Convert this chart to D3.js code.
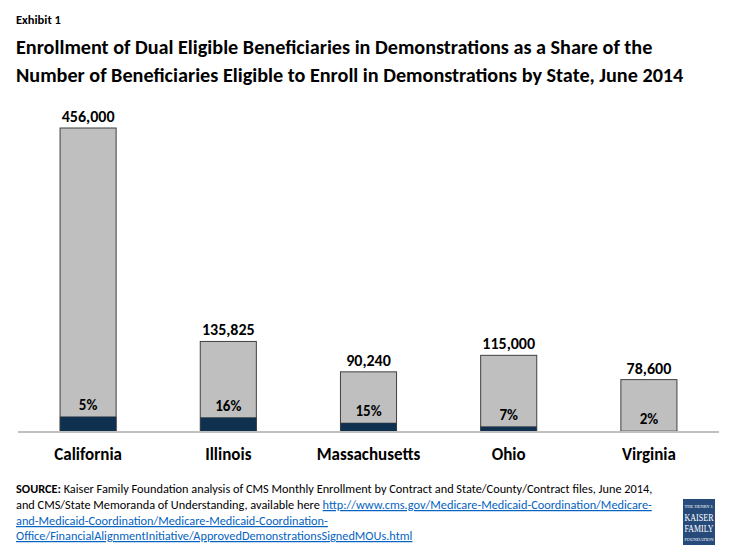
<!DOCTYPE html>
<html>
<head>
<meta charset="utf-8">
<script src="https://cdn.jsdelivr.net/npm/d3@7"></script>
<style>
  body { margin: 0; background: #fff; }
  svg { font-family: Carlito, Calibri, Lato, "Open Sans", sans-serif; }
  .link { fill: #0563c1; text-decoration: underline; }
</style>
</head>
<body>
<div id="chart"></div>
<script>
// chart data
let states = ["California", "Illinois", "Massachusetts", "Ohio", "Virginia"];
let eligible = [456000, 135825, 90240, 115000, 78600];
let enrolledShare = [0.05, 0.16, 0.15, 0.07, 0.02];
let shareLabels = ["5%", "16%", "15%", "7%", "2%"];

let width = 735, height = 551;

let svg = d3.select("#chart")
    .append("svg")
    .attr("width", width)
    .attr("height", height);

// header
svg.append("text")
    .attr("x", 16).attr("y", 24)
    .style("font-size", "12.5px").style("font-weight", "bold")
    .text("Exhibit 1");

let title = [
    "Enrollment of Dual Eligible Beneficiaries in Demonstrations as a Share of the",
    "Number of Beneficiaries Eligible to Enroll in Demonstrations by State, June 2014"
];
svg.selectAll(".title")
    .data(title)
    .enter().append("text")
    .attr("class", "title")
    .attr("x", 16)
    .attr("y", function(d, i) { return 54 + i * 28; })
    .style("font-size", "20.2px").style("font-weight", "bold")
    .text(function(d) { return d; });

// scales
let x = d3.scaleBand()
    .domain(states)
    .range([18, 719])
    .paddingInner(0.6)
    .paddingOuter(0.3);

let y = d3.scaleLinear()
    .domain([0, 456000])
    .range([432, 128]);

let rows = states.map(function(s, i) {
    return { state: s, eligible: eligible[i], enrolled: eligible[i] * enrolledShare[i], label: shareLabels[i] };
});

// eligible bars (gray)
svg.selectAll(".bar")
    .data(rows)
    .enter().append("rect")
    .attr("class", "bar")
    .attr("x", function(d) { return x(d.state); })
    .attr("y", function(d) { return y(d.eligible); })
    .attr("width", x.bandwidth())
    .attr("height", function(d) { return y(0) - y(d.eligible); })
    .style("fill", "#bfbfbf")
    .style("stroke", "#404040")
    .style("stroke-width", 1);

// enrolled bars (dark blue)
svg.selectAll(".enrolled")
    .data(rows)
    .enter().append("rect")
    .attr("class", "enrolled")
    .attr("x", function(d) { return x(d.state); })
    .attr("y", function(d) { return y(d.enrolled); })
    .attr("width", x.bandwidth())
    .attr("height", function(d) { return y(0) - y(d.enrolled); })
    .style("fill", "#10304f")
    .style("stroke", "#404040")
    .style("stroke-width", 0.5);

// x axis
let xAxis = svg.append("g")
    .attr("transform", "translate(0,432)")
    .call(d3.axisBottom(x).tickSize(0).tickPadding(16));
xAxis.select(".domain").attr("stroke", "#c0c0c0").attr("stroke-width", 2)
    .attr("d", "M18,0H719");
xAxis.selectAll("text")
    .style("font-family", "Carlito, Calibri, Lato, 'Open Sans', sans-serif")
    .style("font-size", "17px").style("font-weight", "bold").attr("fill", "#000");

// value labels
svg.selectAll(".value")
    .data(rows)
    .enter().append("text")
    .attr("class", "value")
    .attr("x", function(d) { return x(d.state) + x.bandwidth() / 2; })
    .attr("y", function(d) { return y(d.eligible) - 6; })
    .attr("text-anchor", "middle")
    .style("font-size", "16px").style("font-weight", "bold")
    .text(function(d) { return d3.format(",")(d.eligible); });

svg.selectAll(".share")
    .data(rows)
    .enter().append("text")
    .attr("class", "share")
    .attr("x", function(d) { return x(d.state) + x.bandwidth() / 2; })
    .attr("y", function(d) { return y(d.enrolled) - 7; })
    .attr("text-anchor", "middle")
    .style("font-size", "15px").style("font-weight", "bold")
    .text(function(d) { return d.label; });

// source note
let src = svg.append("g").style("font-size", "12.3px");
let l1 = src.append("text").attr("x", 16).attr("y", 493);
l1.append("tspan").style("font-weight", "bold").text("SOURCE:");
l1.append("tspan").text(" Kaiser Family Foundation analysis of CMS Monthly Enrollment by Contract and State/County/Contract files, June 2014,");
let l2 = src.append("text").attr("x", 16).attr("y", 509);
l2.append("tspan").text("and CMS/State Memoranda of Understanding, available here ");
l2.append("tspan").attr("class", "link").text("http://www.cms.gov/Medicare-Medicaid-Coordination/Medicare-");
src.append("text").attr("class", "link").attr("x", 16).attr("y", 525)
    .text("and-Medicaid-Coordination/Medicare-Medicaid-Coordination-");
src.append("text").attr("class", "link").attr("x", 16).attr("y", 540)
    .text("Office/FinancialAlignmentInitiative/ApprovedDemonstrationsSignedMOUs.html");

// logo
let logo = svg.append("g").attr("transform", "translate(683,499)");
logo.append("rect").attr("width", 32).attr("height", 46).style("fill", "#264a7a");
let logoText = [
    { t: "THE HENRY J.", y: 9, s: 5 },
    { t: "KAISER", y: 22, s: 11 },
    { t: "FAMILY", y: 33, s: 11 },
    { t: "FOUNDATION", y: 42, s: 4.6 }
];
logo.selectAll("text")
    .data(logoText)
    .enter().append("text")
    .attr("x", 16)
    .attr("y", function(d) { return d.y; })
    .attr("text-anchor", "middle")
    .attr("textLength", 29)
    .attr("lengthAdjust", "spacingAndGlyphs")
    .style("font-family", "'Liberation Serif', 'DejaVu Serif', serif")
    .style("font-size", function(d) { return d.s + "px"; })
    .style("fill", "#fff")
    .text(function(d) { return d.t; });
</script>
</body>
</html>
